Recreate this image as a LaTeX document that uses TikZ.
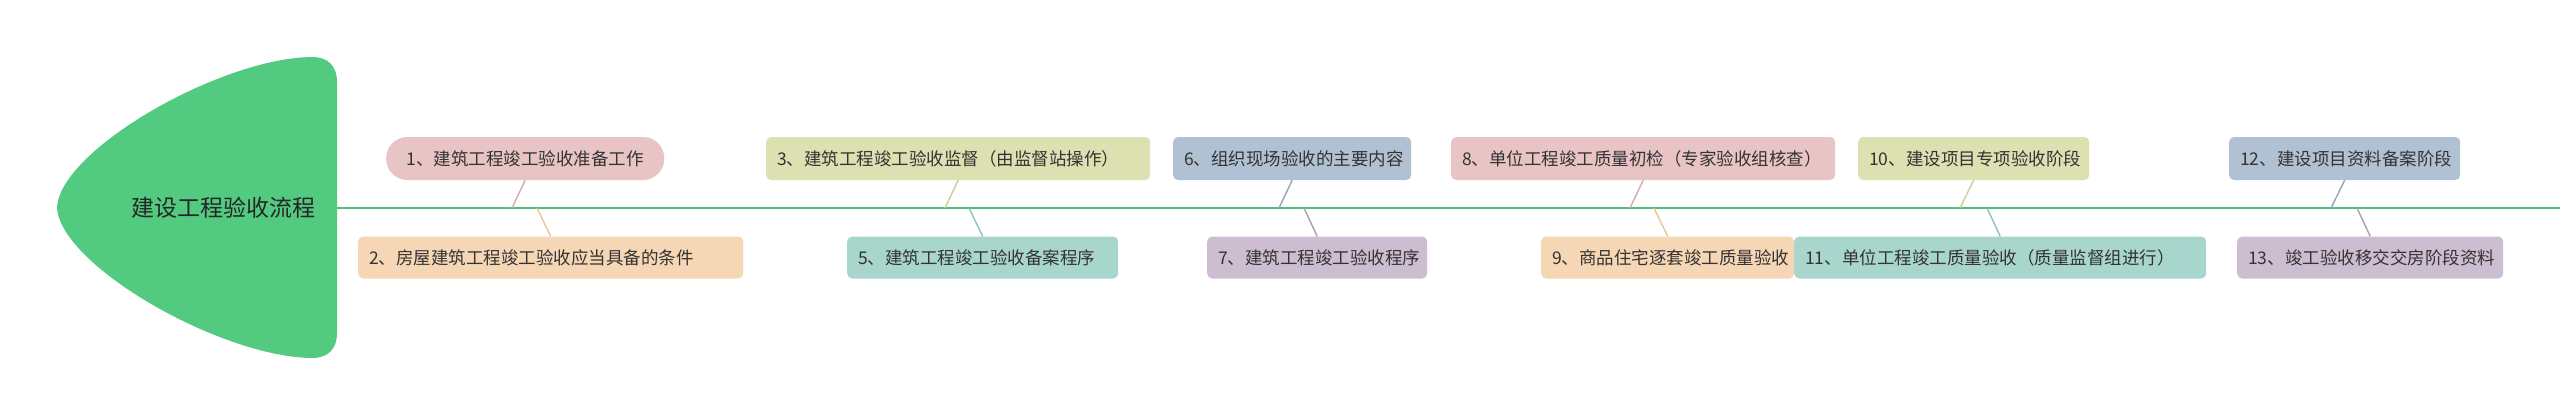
\documentclass[tikz,border=0pt]{standalone}
\usepackage{fontspec}
\newfontfamily\cjk{Noto Sans CJK SC}
\definecolor{rootc}{RGB}{82,202,128}
\definecolor{linec}{RGB}{78,190,122}
\definecolor{txt}{RGB}{51,51,51}
\definecolor{pinkf}{RGB}{232,196,197}
\definecolor{pinkl}{RGB}{214,168,176}
\definecolor{peachf}{RGB}{245,214,181}
\definecolor{peachl}{RGB}{232,196,158}
\definecolor{yelf}{RGB}{221,224,177}
\definecolor{yell}{RGB}{205,205,160}
\definecolor{tealf}{RGB}{168,214,204}
\definecolor{teall}{RGB}{138,196,188}
\definecolor{bluef}{RGB}{177,193,212}
\definecolor{bluel}{RGB}{150,164,188}
\definecolor{purf}{RGB}{205,189,208}
\definecolor{purl}{RGB}{172,158,178}
\tikzset{
  box/.style={rectangle, rounded corners=5pt, minimum height=43pt, inner xsep=11pt, inner ysep=0pt,
    anchor=west, align=left, text=txt, font=\cjk\fontsize{17.5}{21}\selectfont},
  conn/.style={line width=1.4pt},
}
\begin{document}
\begin{tikzpicture}[x=1pt,y=-1pt]
\useasboundingbox (0,0) rectangle (2560,416);
\fill[white] (0,0) rectangle (2560,416);
% root shape
\fill[rootc] (57,207.5) .. controls (60,150) and (220,58) .. (312,57)
  .. controls (328,57) and (337,66) .. (337,82) -- (337,333)
  .. controls (337,349) and (328,358) .. (312,358)
  .. controls (220,357) and (60,265) .. (57,207.5) -- cycle;
\node[text=black!85, font=\cjk\fontsize{23}{27}\selectfont, anchor=east] (root) at (319,208) {建设工程验收流程};
\coordinate (rootR) at (337,208);
\coordinate (lineEnd) at (2560,208);
\draw[linec, line width=1.7pt] (rootR) -- (lineEnd);
% nodes top row
\node[box, fill=pinkf, rounded corners=21pt, minimum width=278pt, align=center] (n1) at (386,158.5) {1、建筑工程竣工验收准备工作};
\node[box, fill=yelf, text width=362pt] (n3) at (766,158.5) {3、建筑工程竣工验收监督（由监督站操作）};
\node[box, fill=bluef, text width=216pt] (n6) at (1173,158.5) {6、组织现场验收的主要内容};
\node[box, fill=pinkf, text width=362pt] (n8) at (1451,158.5) {8、单位工程竣工质量初检（专家验收组核查）};
\node[box, fill=yelf, text width=209pt] (n10) at (1858,158.5) {10、建设项目专项验收阶段};
\node[box, fill=bluef, text width=209pt] (n12) at (2229,158.5) {12、建设项目资料备案阶段};
% nodes bottom row
\node[box, fill=peachf, text width=363pt, minimum height=42pt] (n2) at (358,257.5) {2、房屋建筑工程竣工验收应当具备的条件};
\node[box, fill=tealf, text width=249pt, minimum height=42pt] (n5) at (847,257.5) {5、建筑工程竣工验收备案程序};
\node[box, fill=purf, text width=198pt, minimum height=42pt] (n7) at (1207,257.5) {7、建筑工程竣工验收程序};
\node[box, fill=peachf, text width=231pt, minimum height=42pt] (n9) at (1541,257.5) {9、商品住宅逐套竣工质量验收};
\node[box, fill=tealf, text width=390pt, minimum height=42pt] (n11) at (1794,257.5) {11、单位工程竣工质量验收（质量监督组进行）};
\node[box, fill=purf, text width=244pt, minimum height=42pt] (n13) at (2237,257.5) {13、竣工验收移交交房阶段资料};
% line points
\coordinate (l1) at (512,208);
\coordinate (l2) at (537,208);
\coordinate (l3) at (945,208);
\coordinate (l5) at (969,208);
\coordinate (l6) at (1279,208);
\coordinate (l7) at (1304,208);
\coordinate (l8) at (1630,208);
\coordinate (l9) at (1654,208);
\coordinate (l10) at (1960,208);
\coordinate (l11) at (1987,208);
\coordinate (l12) at (2331,208);
\coordinate (l13) at (2357,208);
% connectors
\draw[conn, pinkl] (n1.south) -- (l1);
\draw[conn, peachl] (l2) -- (n2.north);
\draw[conn, yell] (n3.south) -- (l3);
\draw[conn, teall] (l5) -- (n5.north);
\draw[conn, bluel] (n6.south) -- (l6);
\draw[conn, purl] (l7) -- (n7.north);
\draw[conn, pinkl] (n8.south) -- (l8);
\draw[conn, peachl] (l9) -- (n9.north);
\draw[conn, yell] (n10.south) -- (l10);
\draw[conn, teall] (l11) -- (n11.north);
\draw[conn, bluel] (n12.south) -- (l12);
\draw[conn, purl] (l13) -- (n13.north);
\end{tikzpicture}
\end{document}
